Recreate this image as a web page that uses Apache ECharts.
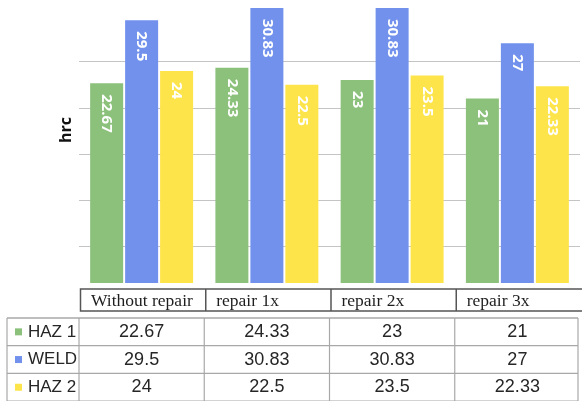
<!DOCTYPE html>
<html><head><meta charset="utf-8">
<script src="https://cdn.jsdelivr.net/npm/echarts@6/dist/echarts.min.js"></script>
<style>html,body{margin:0;padding:0;background:#fff}#c{width:582px;height:401px}</style>
</head><body><div id="c"></div>
<script>
// ---- data ----
const categories = ['Without repair', 'repair 1x', 'repair 2x', 'repair 3x'];
const seriesNames = ['HAZ 1', 'WELD', 'HAZ 2'];
const haz1 = [22.67, 24.33, 23, 21];
const weld = [29.5, 30.83, 30.83, 27];
const haz2 = [24, 22.5, 23.5, 22.33];
const axisTitle = 'hrc';

// ---- style ----
const colors = ['#8cc17b', '#7191ec', '#fde44b'];
const seriesData = [haz1, weld, haz2];

const chart = echarts.init(document.getElementById('c'), null, {renderer: 'canvas'});

const labelStyle = {
  show: true, position: 'insideTop', distance: 11, rotate: -90,
  align: 'left', verticalAlign: 'middle',
  color: '#ffffff', fontFamily: 'Open Sans', fontWeight: 'bold', fontSize: 15
};

chart.setOption({
  animation: false,
  backgroundColor: '#ffffff',
  grid: {left: 79, right: 2, top: 15.6, bottom: 108.9},
  xAxis: {
    type: 'category', data: categories,
    axisLine: {show: false}, axisTick: {show: false}, axisLabel: {show: false}
  },
  yAxis: {
    type: 'value', min: 0, max: 30, interval: 5,
    axisLine: {show: false}, axisTick: {show: false}, axisLabel: {show: false},
    splitLine: {show: true, showMaxLine: false, showMinLine: false,
      lineStyle: {color: '#c4c4c4', width: 1}}
  },
  series: seriesNames.map((n, i) => ({
    name: n, type: 'bar', data: seriesData[i], clip: false,
    barWidth: 33, barGap: '6%',
    itemStyle: {color: colors[i]},
    label: labelStyle
  }))
});

// ---- data table below the plot, columns taken from the category axis ----
const centers = categories.map((c, i) => chart.convertToPixel({xAxisIndex: 0}, i));
const bw = centers[1] - centers[0];
const edges = centers.map(c => c - bw / 2).concat([centers[centers.length - 1] + bw / 2]);

const g = [];
const Z = 100;
// white backdrop for the table area
g.push({type: 'rect', z: Z, shape: {x: 0, y: 283, width: 582, height: 118},
  style: {fill: '#ffffff'}, silent: true});
// header row
const hTop = 289, hBot = 311;
g.push({type: 'rect', z: Z + 1, shape: {x: edges[0] + 1.5, y: hTop, width: 590 - edges[0], height: hBot - hTop},
  style: {fill: '#ffffff', stroke: '#555555', lineWidth: 1.5}});
for (let i = 1; i < categories.length; i++) {
  g.push({type: 'line', z: Z + 1, shape: {x1: edges[i] + 1.5, y1: hTop, x2: edges[i] + 1.5, y2: hBot},
    style: {stroke: '#555555', lineWidth: 1.5}});
}
categories.forEach((c, i) => {
  g.push({type: 'text', z: Z + 2, x: edges[i] + 12, y: (hTop + hBot) / 2 + 1,
    style: {text: c, fill: '#1e1e1e', font: '17.5px "Liberation Serif"', align: 'left', verticalAlign: 'middle'}});
});
// data rows
const tTop = 318, rowH = 27.7, tLeft = 7, tRight = 578;
const lineC = '#a8a8a8';
for (let r = 0; r <= seriesNames.length; r++) {
  const y = tTop + r * rowH;
  g.push({type: 'line', z: Z + 1, shape: {x1: tLeft, y1: y, x2: tRight, y2: y},
    style: {stroke: lineC, lineWidth: r === 0 ? 1.6 : 1.2}});
}
const vx = [tLeft].concat(edges.slice(0, categories.length)).concat([tRight]);
vx.forEach(x => {
  g.push({type: 'line', z: Z + 1, shape: {x1: x, y1: tTop, x2: x, y2: tTop + rowH * seriesNames.length},
    style: {stroke: lineC, lineWidth: 1.2}});
});
seriesNames.forEach((n, r) => {
  const ym = tTop + r * rowH + rowH / 2;
  g.push({type: 'rect', z: Z + 2, shape: {x: 15, y: ym - 3.5, width: 7, height: 7}, style: {fill: colors[r]}});
  g.push({type: 'text', z: Z + 2, x: 28, y: ym,
    style: {text: n, fill: '#262626', font: '17px "Liberation Sans"', align: 'left', verticalAlign: 'middle'}});
  seriesData[r].forEach((v, i) => {
    g.push({type: 'text', z: Z + 2, x: centers[i], y: ym,
      style: {text: String(v), fill: '#262626', font: '18px "Liberation Sans"', align: 'center', verticalAlign: 'middle'}});
  });
});
// axis title
g.push({type: 'text', z: Z + 2, x: 66, y: 130, rotation: Math.PI / 2,
  style: {text: axisTitle, fill: '#111111', font: 'bold 16px "Open Sans"', align: 'center', verticalAlign: 'middle'}});

chart.setOption({graphic: g});
</script>
</body></html>
